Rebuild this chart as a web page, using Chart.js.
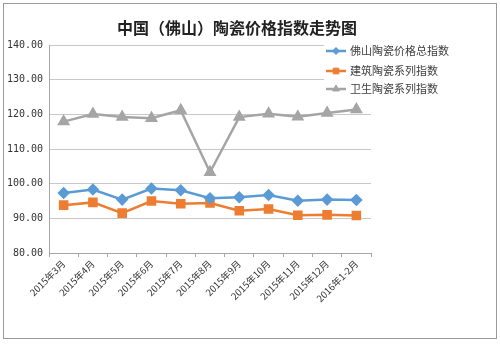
<!DOCTYPE html>
<html>
<head>
<meta charset="utf-8">
<script src="https://cdn.jsdelivr.net/npm/chart.js@4/dist/chart.umd.min.js"></script>
<style>
	html, body { margin: 0; padding: 0; background: #fff; }
	#frame { position: absolute; left: 3px; top: 3px; width: 492px; height: 334px; border: 1px solid #9a9a9a; background: #fff; }
	#myChart { display: block; }
</style>
</head>
<body>
<div id="frame"><canvas id="myChart" width="492" height="334"></canvas></div>
<script>
var titleText = "中国（佛山）陶瓷价格指数走势图";
var months = ["2015年3月", "2015年4月", "2015年5月", "2015年6月", "2015年7月", "2015年8月",
	"2015年9月", "2015年10月", "2015年11月", "2015年12月", "2016年1-2月"];
var totalIndex = [97.3, 98.3, 95.4, 98.6, 98.1, 95.8, 96.1, 96.7, 95.1, 95.4, 95.3];
var buildingIndex = [93.8, 94.6, 91.5, 95.0, 94.2, 94.4, 92.2, 92.7, 90.9, 91.0, 90.8];
var sanitaryIndex = [117.9, 120.1, 119.2, 118.9, 121.2, 103.3, 119.2, 120.2, 119.3, 120.4, 121.4];
var seriesNames = ["佛山陶瓷价格总指数", "建筑陶瓷系列指数", "卫生陶瓷系列指数"];

var cjk = "'Noto Sans CJK SC', 'Noto Sans', sans-serif";

// title + legend drawn on top, legend box sits over the plot like in Excel
var overlay = {
	id: 'overlay',
	afterDraw: function(chart) {
		var ctx = chart.ctx;
		ctx.save();
		ctx.fillStyle = '#222';
		ctx.font = 'bold 16px ' + cjk;
		ctx.textAlign = 'center';
		ctx.textBaseline = 'middle';
		ctx.fillText(titleText, 233, 24);

		ctx.fillStyle = '#fff';
		ctx.fillRect(320, 37, 120, 60);
		ctx.font = '11px ' + cjk;
		ctx.textAlign = 'left';
		var rows = [47, 67, 85];
		chart.data.datasets.forEach(function(ds, i) {
			var y = rows[i];
			ctx.strokeStyle = ds.borderColor;
			ctx.lineWidth = 2.5;
			ctx.beginPath();
			ctx.moveTo(322, y);
			ctx.lineTo(342, y);
			ctx.stroke();
			ctx.fillStyle = ds.pointBackgroundColor;
			ctx.strokeStyle = ds.pointBorderColor;
			ctx.lineWidth = 1;
			Chart.helpers.drawPoint(ctx, { pointStyle: ds.pointStyle, radius: ds.pointRadius - 1, rotation: 0, borderWidth: 1 }, 332, y);
			ctx.fillStyle = '#404040';
			ctx.fillText(ds.label, 346, y);
		});
		ctx.restore();
	}
};

var ctx = document.getElementById("myChart");
var myLineChart = new Chart(ctx, {
	type: 'line',
	data: {
		labels: months,
		datasets: [
			{
				label: seriesNames[0],
				data: totalIndex,
				borderColor: '#5B9BD5',
				backgroundColor: '#5B9BD5',
				pointBackgroundColor: '#5B9BD5',
				pointBorderColor: '#5B9BD5',
				pointStyle: 'rectRot',
				pointRadius: 4.5,
				borderWidth: 2.5,
				tension: 0
			},
			{
				label: seriesNames[1],
				data: buildingIndex,
				borderColor: '#ED7D31',
				backgroundColor: '#ED7D31',
				pointBackgroundColor: '#ED7D31',
				pointBorderColor: '#ED7D31',
				pointStyle: 'rect',
				pointRadius: 5,
				borderWidth: 2.5,
				tension: 0
			},
			{
				label: seriesNames[2],
				data: sanitaryIndex,
				borderColor: '#A5A5A5',
				backgroundColor: '#A5A5A5',
				pointBackgroundColor: '#A5A5A5',
				pointBorderColor: '#A5A5A5',
				pointStyle: 'triangle',
				pointRadius: 5,
				borderWidth: 2.5,
				tension: 0
			}
		]
	},
	options: {
		responsive: false,
		animation: false,
		layout: { padding: { left: 0, right: 125, top: 41, bottom: 29 } },
		plugins: {
			legend: { display: false },
			title: { display: false },
			tooltip: { enabled: false }
		},
		scales: {
			x: {
				offset: true,
				grid: { display: true, drawOnChartArea: false, offset: true, tickLength: 4, color: '#a6a6a6' },
				border: { color: '#a6a6a6', width: 1 },
				ticks: {
					minRotation: 45,
					maxRotation: 45,
					autoSkip: false,
					color: '#333',
					font: { family: cjk, size: 9.5 },
					padding: 1
				},
				afterFit: function(axis) { axis.height = 56; }
			},
			y: {
				min: 80,
				max: 140,
				grid: { color: '#c8c8c8', drawTicks: false, lineWidth: 1 },
				border: { color: '#a6a6a6', width: 1 },
				ticks: {
					stepSize: 10,
					color: '#333',
					padding: 6,
					font: { family: "'DejaVu Sans Mono', monospace", size: 10 },
					callback: function(v) { return v.toFixed(2); }
				},
				afterFit: function(axis) { axis.width = 45; }
			}
		}
	},
	plugins: [overlay]
});
</script>
</body>
</html>
